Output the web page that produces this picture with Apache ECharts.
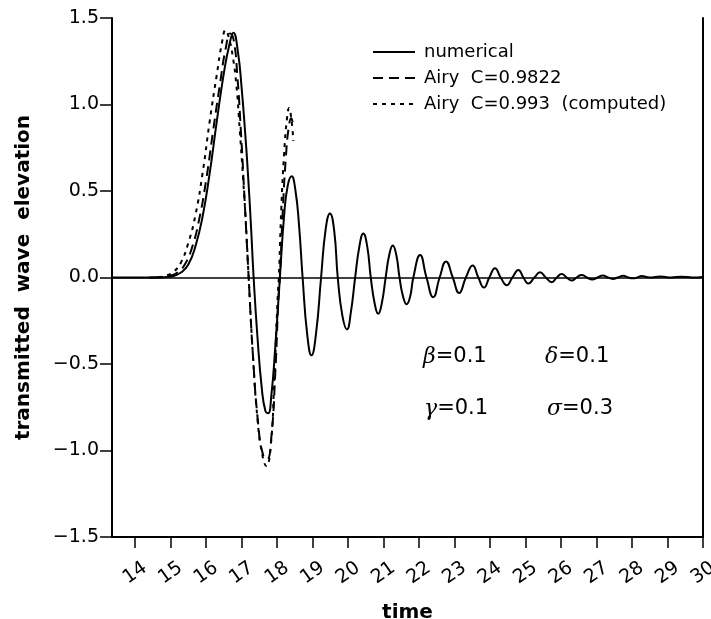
<!DOCTYPE html>
<html><head><meta charset="utf-8">
<script src="https://cdn.jsdelivr.net/npm/echarts@6/dist/echarts.min.js"></script>
<style>html,body{margin:0;padding:0;background:#fff}#c{width:711px;height:619px}</style>
</head><body><div id="c"></div>
<script>
// ---- data ----
const timeTicks = [14,15,16,17,18,19,20,21,22,23,24,25,26,27,28,29,30];
const seriesNames = ['numerical', 'Airy  C=0.9822', 'Airy  C=0.993  (computed)'];
const params = [['β', '=0.1'], ['δ', '=0.1'], ['γ', '=0.1'], ['σ', '=0.3']];

const numerical = [
 [13.35,0],[14.0,0],[14.6,0],[14.9,0.003],[15.1,0.01],[15.3,0.03],[15.5,0.075],[15.7,0.18],[15.9,0.35],
 [16.1,0.6],[16.3,0.9],[16.5,1.18],[16.65,1.34],[16.77,1.415],[16.9,1.3],[17.0,1.1],[17.1,0.84],
 [17.18,0.6],[17.27,0.28],[17.34,0],[17.45,-0.35],[17.57,-0.64],[17.67,-0.77],[17.75,-0.785],
 [17.84,-0.68],[17.95,-0.4],[18.08,0],[18.2,0.36],[18.3,0.53],[18.41,0.585],[18.52,0.5],[18.62,0.3],
 [18.72,0],[18.85,-0.33],[18.97,-0.45],[19.1,-0.32],[19.24,0],[19.37,0.28],[19.49,0.37],[19.61,0.27],
 [19.71,0],[19.84,-0.22],[19.97,-0.30],[20.08,-0.2],[20.2,0],[20.32,0.18],[20.43,0.255],[20.54,0.18],
 [20.64,0],[20.75,-0.15],[20.85,-0.21],[20.95,-0.15],[21.06,0],[21.16,0.13],[21.26,0.185],[21.36,0.13],
 [21.45,0],[21.55,-0.11],[21.65,-0.155],[21.75,-0.11],[21.84,0],[22.03,0.13],[22.21,0],[22.4,-0.114],
 [22.58,0],[22.76,0.093],[22.95,0],[23.13,-0.09],[23.32,0],[23.51,0.07],[23.67,0],[23.83,-0.058],
 [23.98,0],[24.14,0.054],[24.3,0],[24.47,-0.045],[24.63,0],[24.8,0.044],[24.94,0],[25.08,-0.035],
 [25.25,0],[25.41,0.03],[25.57,0],[25.74,-0.027],[25.88,0],[26.02,0.02],[26.16,0],[26.3,-0.018],
 [26.44,0],[26.58,0.015],[26.73,0],[26.88,-0.012],[27.03,0],[27.18,0.012],[27.32,0],[27.46,-0.008],
 [27.6,0],[27.75,0.01],[27.9,0],[28.02,-0.005],[28.15,0],[28.27,0.008],[28.5,0],[28.8,0.006],
 [29.1,0],[29.4,0.005],[29.7,0],[30,0.003]
];

const airy9822 = [
 [14.5,0],[14.8,0.003],[15.0,0.01],[15.2,0.03],[15.4,0.075],[15.6,0.17],[15.8,0.33],[16.0,0.56],
 [16.2,0.85],[16.4,1.13],[16.55,1.32],[16.68,1.41],[16.78,1.37],[16.88,1.17],[16.98,0.85],[17.08,0.47],
 [17.2,0],[17.32,-0.45],[17.47,-0.85],[17.6,-1.02],[17.72,-1.05],[17.84,-0.92],[17.95,-0.55],
 [18.04,-0.12],[18.08,0],[18.16,0.38],[18.25,0.7],[18.33,0.87],[18.4,0.92],[18.45,0.88]
];

const airy993 = [
 [14.4,0],[14.7,0.003],[14.9,0.012],[15.1,0.035],[15.3,0.09],[15.5,0.2],[15.7,0.36],[15.9,0.6],
 [16.1,0.9],[16.3,1.17],[16.45,1.36],[16.55,1.43],[16.65,1.38],[16.75,1.28],[16.85,1.12],[16.95,0.85],
 [17.05,0.55],[17.12,0.32],[17.2,0],[17.32,-0.45],[17.45,-0.82],[17.58,-1.02],[17.7,-1.09],
 [17.82,-0.98],[17.92,-0.6],[18.02,-0.1],[18.05,0],[18.12,0.4],[18.2,0.72],[18.28,0.92],[18.34,0.98],
 [18.4,0.92],[18.46,0.79]
];

// ---- chart ----
const chart = echarts.init(document.getElementById('c'), null, {renderer: 'canvas'});
const black = '#000';
const labelFont = 'DejaVu Sans';
function fmtY(v){ return (v < 0 ? '\u2212' : '') + Math.abs(v).toFixed(1); }

const option = {
  backgroundColor: '#fff',
  animation: false,
  grid: {left: 112, right: 8, top: 18, bottom: 82, containLabel: false, outerBoundsMode: 'none'},
  legend: {
    orient: 'vertical', left: 367, top: 37,
    itemWidth: 42, itemHeight: 14, itemGap: 6,
    data: seriesNames,
    itemStyle: {opacity: 0},
    textStyle: {color: black, fontFamily: labelFont, fontSize: 18, lineHeight: 20, padding: [0,0,0,4]}
  },
  xAxis: {
    type: 'value', min: 13.35, max: 30,
    name: 'time', nameLocation: 'middle', nameGap: 66,
    nameTextStyle: {color: black, fontFamily: labelFont, fontWeight: 'bold', fontSize: 20},
    axisLine: {onZero: false, lineStyle: {color: black, width: 2}},
    axisTick: {show: true, inside: false, length: 11, lineStyle: {color: black, width: 1.5}, customValues: timeTicks},
    axisLabel: {color: black, fontFamily: labelFont, fontSize: 19, rotate: 35, margin: 36,
      align: 'center', verticalAlign: 'middle', customValues: timeTicks},
    splitLine: {show: false}
  },
  yAxis: [{
    type: 'value', min: -1.5, max: 1.5, interval: 0.5,
    name: 'transmitted  wave  elevation', nameLocation: 'middle', nameGap: 78,
    nameTextStyle: {color: black, fontFamily: labelFont, fontWeight: 'bold', fontSize: 20},
    axisLine: {show: true, lineStyle: {color: black, width: 2}},
    axisTick: {show: true, inside: false, length: 12, lineStyle: {color: black, width: 1.5}},
    axisLabel: {color: black, fontFamily: labelFont, fontSize: 19, margin: 13, formatter: fmtY},
    splitLine: {show: false}
  }, {
    type: 'value', min: -1.5, max: 1.5, interval: 0.5, position: 'right',
    axisLine: {show: true, lineStyle: {color: black, width: 2}},
    axisTick: {show: false}, axisLabel: {show: false}, splitLine: {show: false}
  }],
  series: [
    {name: seriesNames[0], type: 'line', data: numerical, smooth: 0.5, showSymbol: false, symbol: 'none',
     lineStyle: {color: black, width: 2, type: 'solid'}, itemStyle: {color: black}, z: 3,
     markLine: {silent: true, symbol: 'none', label: {show: false},
       lineStyle: {color: black, width: 1.5, type: 'solid'}, data: [{yAxis: 0}]}},
    {name: seriesNames[1], type: 'line', data: airy9822, smooth: 0.5, showSymbol: false, symbol: 'none',
     lineStyle: {color: black, width: 2, type: [10, 6]}, itemStyle: {color: black}},
    {name: seriesNames[2], type: 'line', data: airy993, smooth: 0.5, showSymbol: false, symbol: 'none',
     lineStyle: {color: black, width: 2, type: [4, 5]}, itemStyle: {color: black}}
  ],
  graphic: [
    [423, 346, 0], [545, 346, 1], [424, 398, 2], [547, 398, 3]
  ].map(function(p){
    const pr = params[p[2]];
    return {type: 'text', left: p[0], top: p[1], silent: true,
      style: {text: '{g|' + pr[0] + '}{n|' + pr[1] + '}', fill: black,
        rich: {g: {fontFamily: 'DejaVu Serif', fontStyle: 'italic', fontSize: 22, fill: black},
               n: {fontFamily: labelFont, fontSize: 21, fill: black}}}};
  })
};
chart.setOption(option);
</script>
</body></html>
